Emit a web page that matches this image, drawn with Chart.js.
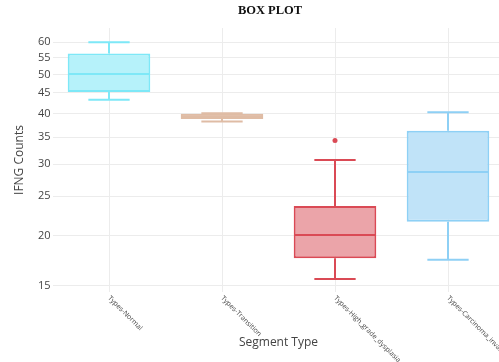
<!DOCTYPE html>
<html>
<head>
<meta charset="utf-8">
<script src="https://cdn.jsdelivr.net/npm/chart.js@4.4.0/dist/chart.umd.min.js"></script>
<style>
  html, body { margin: 0; padding: 0; background: #fff; overflow: hidden; width: 499px; height: 362px; }
  canvas { display: block; }
</style>
</head>
<body>
<canvas id="chart" width="520" height="362"></canvas>
<script>
// IFNG counts per segment type: five-number summaries plus outliers
const categories = ['Types-Normal', 'Types-Transition', 'Types-High_grade_dysplasia', 'Types-Carcinoma_invasive'];
const lowerWhisker = [43.3, 38.25, 15.6, 17.4];
const q1 = [45.2, 38.8, 17.55, 21.6];
const median = [50.1, 39.4, 20.05, 28.7];
const q3 = [56.3, 39.95, 23.65, 36.3];
const upperWhisker = [60.0, 40.05, 30.7, 40.3];
const outliers = [[], [], [34.3], []];
const yTicks = [15, 20, 25, 30, 35, 40, 45, 50, 55, 60];

const fillColors = ['#b6f2fa', '#ead0bf', '#eba4a9', '#c0e3f8'];
const lineColors = ['#7ee8f7', '#dfbca5', '#da4a55', '#8ed0f5'];

const boxPlotExtras = {
  id: 'boxPlotExtras',
  afterDatasetsDraw(chart) {
    const ctx = chart.ctx;
    const y = chart.scales.y;
    const meta = chart.getDatasetMeta(0);
    ctx.save();
    meta.data.forEach((bar, i) => {
      const cx = bar.x;
      const half = bar.width / 2;
      const cap = half / 2;
      const yLo = y.getPixelForValue(lowerWhisker[i]);
      const yHi = y.getPixelForValue(upperWhisker[i]);
      const yQ1 = y.getPixelForValue(q1[i]);
      const yQ3 = y.getPixelForValue(q3[i]);
      const yMed = y.getPixelForValue(median[i]);
      ctx.strokeStyle = lineColors[i];
      ctx.lineWidth = 2;
      ctx.beginPath();
      // whisker stems
      ctx.moveTo(cx, yQ3); ctx.lineTo(cx, yHi);
      ctx.moveTo(cx, yQ1); ctx.lineTo(cx, yLo);
      // whisker caps
      ctx.moveTo(cx - cap, yHi); ctx.lineTo(cx + cap, yHi);
      ctx.moveTo(cx - cap, yLo); ctx.lineTo(cx + cap, yLo);
      // median
      ctx.moveTo(cx - half + 1, yMed); ctx.lineTo(cx + half - 1, yMed);
      ctx.stroke();
      // outliers
      ctx.fillStyle = lineColors[i];
      outliers[i].forEach(v => {
        ctx.beginPath();
        ctx.arc(cx, y.getPixelForValue(v), 2.5, 0, Math.PI * 2);
        ctx.fill();
      });
    });
    ctx.restore();
  },
  afterDraw(chart) {
    const ctx = chart.ctx;
    const x = chart.scales.x;
    ctx.save();
    // rotated category labels
    ctx.fillStyle = '#444';
    ctx.font = '7px "Open Sans"';
    ctx.textAlign = 'left';
    ctx.textBaseline = 'middle';
    categories.forEach((label, i) => {
      const px = x.getPixelForValue(i);
      ctx.save();
      ctx.translate(px, 297);
      ctx.rotate(Math.PI / 4);
      ctx.fillText(label, 0, 0);
      ctx.restore();
    });
    // main title
    ctx.fillStyle = '#111';
    ctx.font = 'bold 12.5px "Liberation Serif"';
    ctx.textAlign = 'center';
    ctx.textBaseline = 'middle';
    ctx.fillText('BOX PLOT', 270, 11);
    ctx.restore();
  }
};

new Chart(document.getElementById('chart'), {
  type: 'bar',
  data: {
    labels: categories,
    datasets: [{
      data: q1.map((v, i) => [v, q3[i]]),
      backgroundColor: fillColors,
      borderColor: lineColors,
      borderWidth: 2,
      borderSkipped: false,
      barPercentage: 0.731,
      categoryPercentage: 1
    }]
  },
  options: {
    responsive: false,
    devicePixelRatio: 1,
    animation: false,
    layout: { padding: { top: 28, left: 0, right: 15.5, bottom: 0 } },
    plugins: {
      legend: { display: false },
      tooltip: { enabled: false },
      title: { display: false }
    },
    scales: {
      x: {
        type: 'category',
        offset: true,
        grid: { offset: false, color: '#ececec', lineWidth: 1, drawTicks: false },
        border: { display: false },
        ticks: { display: false },
        title: {
          display: true,
          text: 'Segment Type',
          color: '#444',
          font: { family: 'Open Sans', size: 12 },
          padding: { top: 0, bottom: 11.8 }
        },
        afterFit(scale) { scale.height = 70; }
      },
      y: {
        type: 'logarithmic',
        min: 14.49,
        max: 65.1,
        grid: { color: '#ececec', lineWidth: 1, drawTicks: false },
        border: { display: false },
        afterBuildTicks(axis) { axis.ticks = yTicks.map(v => ({ value: v })); },
        ticks: {
          color: '#444',
          font: { family: 'Open Sans', size: 11 },
          padding: 2,
          callback: (v) => String(v)
        },
        title: {
          display: true,
          text: 'IFNG Counts',
          color: '#444',
          font: { family: 'Open Sans', size: 12 },
          padding: { top: 12, bottom: 0 }
        },
        afterFit(scale) { scale.width = 52.5; }
      }
    }
  },
  plugins: [boxPlotExtras]
});
</script>
</body>
</html>
